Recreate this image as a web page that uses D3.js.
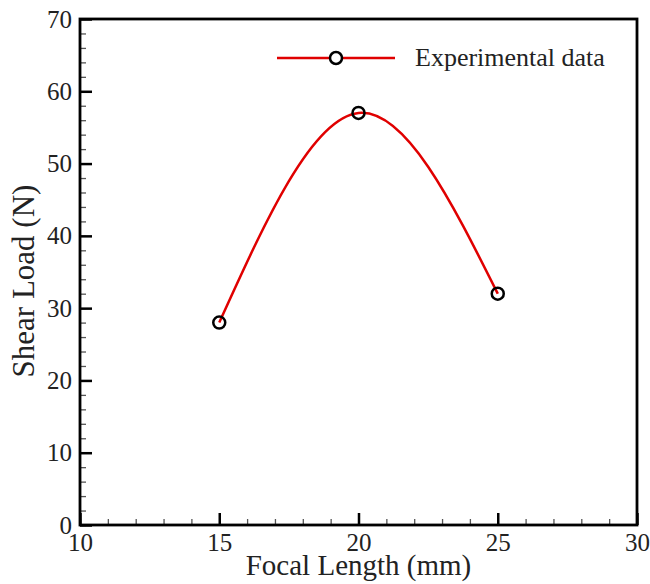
<!DOCTYPE html>
<html>
<head>
<meta charset="utf-8">
<script src="https://cdn.jsdelivr.net/npm/d3@7"></script>
<style>
  body { margin: 0; background: #fff; }
  text { font-family: "Liberation Serif", "Times New Roman", serif; fill: #222; }
</style>
</head>
<body>
<div class="main"></div>
<script>
const focalLength = [15, 20, 25];
const shearLoad = [28, 57, 32];
const xMajor = [10, 15, 20, 25, 30];
const yMajor = [0, 10, 20, 30, 40, 50, 60, 70];
const seriesName = "Experimental data";

const w = 650;
const h = 584;
const padL = 80, padR = 637, padT = 19, padB = 525;
const serif = '"Liberation Serif", "Times New Roman", serif';

const svg = d3.select(".main")
  .append("svg")
  .attr("width", w)
  .attr("height", h);

const xScale = d3.scaleLinear().domain([10, 30]).range([padL, padR]);
const yScale = d3.scaleLinear().domain([0, 70]).range([padB, padT]);

// minor ticks
svg.append("g")
  .attr("transform", "translate(0," + padB + ")")
  .call(d3.axisBottom(xScale).tickValues(d3.range(10, 31, 1)).tickSize(-6).tickFormat(""))
  .call(g => g.select(".domain").remove())
  .call(g => g.selectAll("line").attr("stroke", "#555").attr("stroke-width", 1.3));

svg.append("g")
  .attr("transform", "translate(" + padL + ",0)")
  .call(d3.axisLeft(yScale).tickValues(d3.range(0, 71, 2)).tickSize(-6).tickFormat(""))
  .call(g => g.select(".domain").remove())
  .call(g => g.selectAll("line").attr("stroke", "#555").attr("stroke-width", 1.3));

// major ticks
svg.append("g")
  .attr("transform", "translate(0," + padB + ")")
  .style("font-family", serif)
  .call(d3.axisBottom(xScale).tickValues(xMajor).tickSize(-12).tickPadding(8))
  .call(g => g.select(".domain").remove())
  .call(g => g.selectAll("line").attr("stroke", "#000").attr("stroke-width", 2.5))
  .call(g => g.selectAll("text").style("font-size", "25px").style("font-family", serif).style("fill", "#222"));

svg.append("g")
  .attr("transform", "translate(" + padL + ",0)")
  .style("font-family", serif)
  .call(d3.axisLeft(yScale).tickValues(yMajor).tickSize(-12).tickPadding(8))
  .call(g => g.select(".domain").remove())
  .call(g => g.selectAll("line").attr("stroke", "#000").attr("stroke-width", 2.5))
  .call(g => g.selectAll("text").style("font-size", "25px").style("font-family", serif).style("fill", "#222"));

// frame
svg.append("rect")
  .attr("x", padL)
  .attr("y", padT)
  .attr("width", padR - padL)
  .attr("height", padB - padT)
  .attr("fill", "none")
  .attr("stroke", "#000")
  .attr("stroke-width", 2.8);

const pts = focalLength.map((d, i) => [d, shearLoad[i]]);

const line = d3.line()
  .x(d => xScale(d[0]))
  .y(d => yScale(d[1]))
  .curve(d3.curveNatural);

svg.append("path")
  .datum(pts)
  .attr("d", line)
  .attr("fill", "none")
  .attr("stroke", "#e00000")
  .attr("stroke-width", 2.5);

svg.selectAll("circle.pt")
  .data(pts)
  .enter()
  .append("circle")
  .attr("class", "pt")
  .attr("cx", d => xScale(d[0]))
  .attr("cy", d => yScale(d[1]))
  .attr("r", 6)
  .attr("fill", "none")
  .attr("stroke", "#000")
  .attr("stroke-width", 2.5);

// legend
svg.append("line")
  .attr("x1", 277).attr("x2", 395)
  .attr("y1", 58).attr("y2", 58)
  .attr("stroke", "#e00000")
  .attr("stroke-width", 2.5);

svg.append("circle")
  .attr("cx", 336).attr("cy", 58).attr("r", 6)
  .attr("fill", "#fff")
  .attr("stroke", "#000")
  .attr("stroke-width", 2.5);

svg.append("text")
  .attr("x", 415)
  .attr("y", 66)
  .style("font-size", "26px")
  .text(seriesName);

// axis titles
svg.append("text")
  .attr("x", (padL + padR) / 2)
  .attr("y", 575)
  .style("font-size", "29px")
  .style("text-anchor", "middle")
  .text("Focal Length (mm)");

svg.append("text")
  .attr("transform", "rotate(-90)")
  .attr("x", -281)
  .attr("y", 34)
  .style("font-size", "31px")
  .style("text-anchor", "middle")
  .text("Shear Load (N)");
</script>
</body>
</html>
